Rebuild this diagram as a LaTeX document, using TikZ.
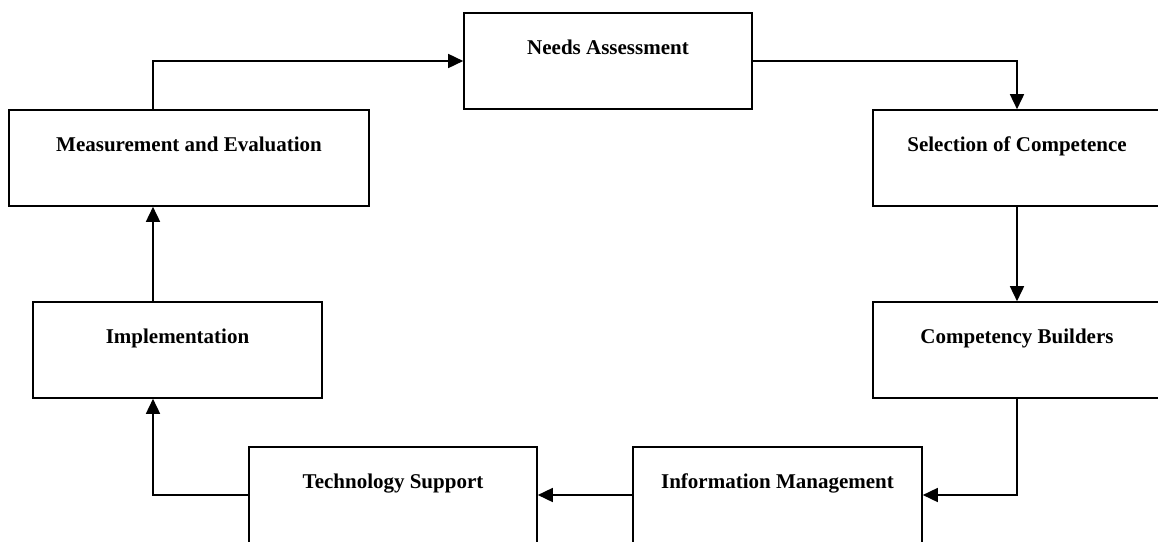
\documentclass[tikz,border=0pt]{standalone}
\usepackage{fontspec}
\setmainfont{Liberation Serif}
\usetikzlibrary{arrows.meta}
\tikzset{
  box/.style={draw, line width=1.6pt, minimum height=96pt, inner sep=0pt, rectangle},
  lbl/.style={anchor=base, font=\fontsize{21}{25}\selectfont\bfseries},
  conn/.style={line width=1.6pt, -{Triangle[length=15pt,width=14pt]}}
}
\begin{document}
\begin{tikzpicture}[x=1pt,y=1pt]
\clip (0,0) rectangle (1158,-541);
\fill[white] (0,0) rectangle (1158,-541);
\node[box, minimum width=288pt] (needs) at (608,-61) {};
\node[box, minimum width=360pt] (meas) at (189,-158) {};
\node[box, minimum width=288pt] (sel) at (1017,-158) {};
\node[box, minimum width=288pt] (comp) at (1017,-350) {};
\node[box, minimum width=289pt] (impl) at (177.5,-350) {};
\node[box, minimum width=288pt] (tech) at (393,-495) {};
\node[box, minimum width=289pt] (info) at (777.5,-495) {};
\node[lbl] (tneeds) at ([yshift=-42pt]needs.north) {Needs Assessment};
\node[lbl] (tmeas) at ([yshift=-42pt]meas.north) {Measurement and Evaluation};
\node[lbl] (tsel) at ([yshift=-42pt]sel.north) {Selection of Competence};
\node[lbl] (tcomp) at ([yshift=-42pt]comp.north) {Competency Builders};
\node[lbl] (timpl) at ([yshift=-42pt]impl.north) {Implementation};
\node[lbl] (ttech) at ([yshift=-42pt]tech.north) {Technology Support};
\node[lbl] (tinfo) at ([yshift=-42pt]info.north) {Information Management};
\coordinate (lx) at (153,0);
\draw[conn] (lx |- meas.north) |- (needs.west);
\draw[conn] (needs.east) -| (sel.north);
\draw[conn] (sel.south) -- (comp.north);
\draw[conn] (comp.south) |- (info.east);
\draw[conn] (info.west) -- (tech.east);
\draw[conn] (tech.west) -| (lx |- impl.south);
\draw[conn] (lx |- impl.north) -- (lx |- meas.south);
\end{tikzpicture}
\end{document}
